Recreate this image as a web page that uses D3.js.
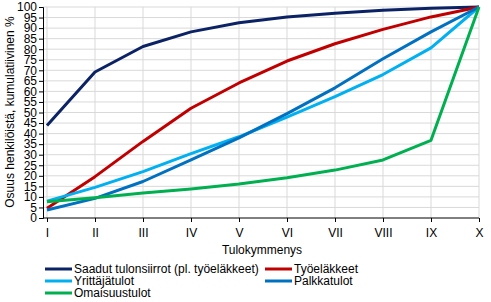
<!DOCTYPE html>
<html>
<head>
<meta charset="utf-8">
<script src="https://cdn.jsdelivr.net/npm/d3@7"></script>
<style>
  body { margin: 0; background: #fff; }
  svg { font-family: "Liberation Sans", Arial, sans-serif; }
</style>
</head>
<body>
<svg></svg>
<script>
const size = {w: 491, h: 302};
const svg = d3.select('svg').attr('width', size.w).attr('height', size.h);

// data
const deciles = ['I', 'II', 'III', 'IV', 'V', 'VI', 'VII', 'VIII', 'IX', 'X'];
const tulonsiirrot = [43.8, 69.2, 81.3, 88.2, 92.5, 95.3, 97.0, 98.5, 99.4, 100];
const tyoelakkeet = [4.6, 19.6, 36.3, 52, 64, 74.4, 82.6, 89.4, 95.3, 100];
const yrittajatulot = [8, 14.5, 22, 30.5, 38.5, 47.8, 57.5, 68, 80.6, 100];
const palkkatulot = [3.8, 9.3, 17.3, 27.5, 38, 49.5, 61.7, 75.5, 88.2, 100];
const omaisuustulot = [7.7, 9.6, 11.8, 13.8, 16.1, 19.1, 22.7, 27.5, 36.8, 100];
const yTicks = d3.range(0, 101, 5);

const series = [
  {name: 'Saadut tulonsiirrot (pl. työeläkkeet)', values: tulonsiirrot, color: '#0b2265'},
  {name: 'Työeläkkeet', values: tyoelakkeet, color: '#c00000'},
  {name: 'Yrittäjätulot', values: yrittajatulot, color: '#00b0f0'},
  {name: 'Palkkatulot', values: palkkatulot, color: '#0070c0'},
  {name: 'Omaisuustulot', values: omaisuustulot, color: '#00b050'}
];

const x = d3.scalePoint().domain(deciles).range([47, 479]);
const y = d3.scaleLinear().domain([0, 100]).range([218, 7]);

// grid
const gridG = svg.append('g');
gridG.selectAll('line.h')
  .data(yTicks.filter(d => d > 0))
  .join('line')
  .attr('x1', 43).attr('x2', 479)
  .attr('y1', d => y(d)).attr('y2', d => y(d))
  .attr('stroke', '#d9d9d9').attr('stroke-width', 1);
gridG.selectAll('line.v')
  .data(deciles)
  .join('line')
  .attr('x1', d => x(d)).attr('x2', d => x(d))
  .attr('y1', y(100)).attr('y2', y(0))
  .attr('stroke', '#d9d9d9').attr('stroke-width', 1);

// y axis
const yAxis = svg.append('g')
  .attr('transform', 'translate(43,0)')
  .call(d3.axisLeft(y).tickValues(yTicks).tickSize(4).tickPadding(2));
yAxis.select('.domain').attr('stroke', '#000');
yAxis.selectAll('text').attr('font-size', 12).attr('fill', '#000')
  .attr('font-family', '"Liberation Sans", Arial, sans-serif');

// x axis
const xAxis = svg.append('g')
  .attr('transform', 'translate(0,218)')
  .call(d3.axisBottom(x).tickSize(4).tickPadding(6));
xAxis.select('.domain').attr('d', 'M43,0H479');
xAxis.selectAll('text').attr('font-size', 12).attr('fill', '#000')
  .attr('font-family', '"Liberation Sans", Arial, sans-serif');

// lines
const line = d3.line()
  .x((d, i) => x(deciles[i]))
  .y(d => y(d));

svg.append('g').selectAll('path')
  .data(series)
  .join('path')
  .attr('d', d => line(d.values))
  .attr('fill', 'none')
  .attr('stroke', d => d.color)
  .attr('stroke-width', 3)
  .attr('stroke-linejoin', 'round');

// axis titles
svg.append('text')
  .attr('x', 262).attr('y', 254)
  .attr('text-anchor', 'middle')
  .attr('font-size', 12)
  .text('Tulokymmenys');

svg.append('text')
  .attr('transform', 'translate(14,112) rotate(-90)')
  .attr('text-anchor', 'middle')
  .attr('font-size', 12)
  .text('Osuus henkilöistä, kumulatiivinen %');

// legend
const legendPos = [[45, 269], [265, 269], [45, 281], [265, 281], [45, 293]];
const legendG = svg.append('g').selectAll('g')
  .data(series)
  .join('g')
  .attr('transform', (d, i) => 'translate(' + legendPos[i] + ')');
legendG.append('line')
  .attr('x1', 0).attr('x2', 27)
  .attr('stroke', d => d.color).attr('stroke-width', 3);
legendG.append('text')
  .attr('x', 29).attr('dy', '0.35em')
  .attr('font-size', 12)
  .text(d => d.name);
</script>
</body>
</html>
